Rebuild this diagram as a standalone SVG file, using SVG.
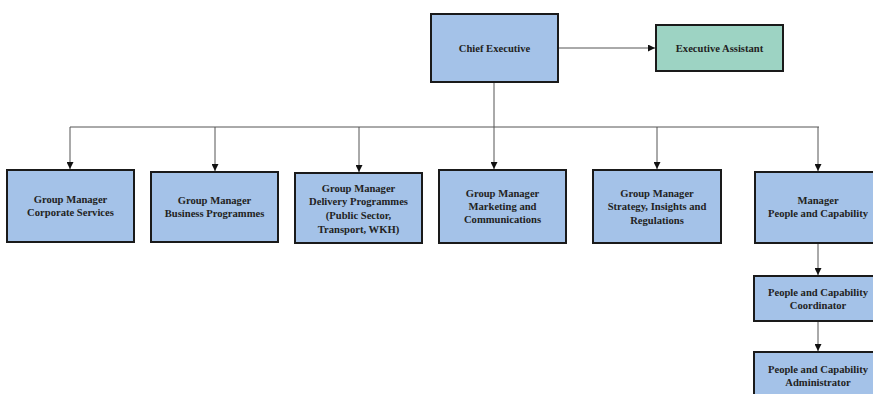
<svg xmlns="http://www.w3.org/2000/svg" width="873" height="394" viewBox="0 0 873 394">
<style>
.box{fill:#a4c2e8;stroke:#1a1a1a;stroke-width:2}
.green{fill:#9dd3c3;stroke:#1a1a1a;stroke-width:2}
.lbl{font-family:"Liberation Serif","Times New Roman",serif;font-weight:bold;font-size:10.6px;fill:#222;text-anchor:middle}
.con{fill:none;stroke:#555;stroke-width:1}
</style>
<defs>
<marker id="ah" viewBox="0 0 10 10" refX="10" refY="5" markerWidth="7" markerHeight="7" markerUnits="userSpaceOnUse" orient="auto">
<path d="M0,0 L10,5 L0,10 z" fill="#111"/>
</marker>
</defs>
<rect width="873" height="394" fill="#fff"/>
<g id="connectors">
<path class="con" d="M558,48 H655" marker-end="url(#ah)"/>
<path class="con" d="M494,83 V127"/>
<path class="con" d="M70,127 H819"/>
<path class="con" d="M70,127 V169" marker-end="url(#ah)"/>
<path class="con" d="M215,127 V171" marker-end="url(#ah)"/>
<path class="con" d="M359,127 V172" marker-end="url(#ah)"/>
<path class="con" d="M494,127 V169" marker-end="url(#ah)"/>
<path class="con" d="M657,127 V169" marker-end="url(#ah)"/>
<path class="con" d="M818,127 V171" marker-end="url(#ah)"/>
<path class="con" d="M818,243 V275" marker-end="url(#ah)"/>
<path class="con" d="M818,321 V351" marker-end="url(#ah)"/>
</g>
<g id="chief-executive">
<rect class="box" x="431" y="14" width="127" height="68"/>
<text class="lbl" x="494.5" y="52">Chief Executive</text>
</g>
<g id="executive-assistant">
<rect class="green" x="656" y="25" width="127" height="46"/>
<text class="lbl" x="719.5" y="52">Executive Assistant</text>
</g>
<g id="gm-corporate">
<rect class="box" x="7" y="170" width="127" height="72"/>
<text class="lbl" x="70.5" y="203">Group Manager</text>
<text class="lbl" x="70.5" y="216">Corporate Services</text>
</g>
<g id="gm-business">
<rect class="box" x="151" y="172" width="127" height="70"/>
<text class="lbl" x="214.5" y="204">Group Manager</text>
<text class="lbl" x="214.5" y="217">Business Programmes</text>
</g>
<g id="gm-delivery">
<rect class="box" x="295" y="173" width="127" height="70"/>
<text class="lbl" x="358.5" y="192">Group Manager</text>
<text class="lbl" x="358.5" y="205">Delivery Programmes</text>
<text class="lbl" x="358.5" y="219">(Public Sector,</text>
<text class="lbl" x="358.5" y="233">Transport, WKH)</text>
</g>
<g id="gm-marketing">
<rect class="box" x="439" y="170" width="127" height="73"/>
<text class="lbl" x="502.5" y="197">Group Manager</text>
<text class="lbl" x="502.5" y="210">Marketing and</text>
<text class="lbl" x="502.5" y="223">Communications</text>
</g>
<g id="gm-strategy">
<rect class="box" x="593" y="170" width="128" height="73"/>
<text class="lbl" x="657" y="197">Group Manager</text>
<text class="lbl" x="657" y="210">Strategy, Insights and</text>
<text class="lbl" x="657" y="224">Regulations</text>
</g>
<g id="manager-pc">
<rect class="box" x="755" y="172" width="127" height="71"/>
<text class="lbl" x="818" y="204">Manager</text>
<text class="lbl" x="818" y="217">People and Capability</text>
</g>
<g id="pc-coordinator">
<rect class="box" x="754" y="276" width="127" height="45"/>
<text class="lbl" x="818" y="296">People and Capability</text>
<text class="lbl" x="818" y="309">Coordinator</text>
</g>
<g id="pc-administrator">
<rect class="box" x="754" y="352" width="127" height="50"/>
<text class="lbl" x="818" y="373">People and Capability</text>
<text class="lbl" x="818" y="386">Administrator</text>
</g>
</svg>
